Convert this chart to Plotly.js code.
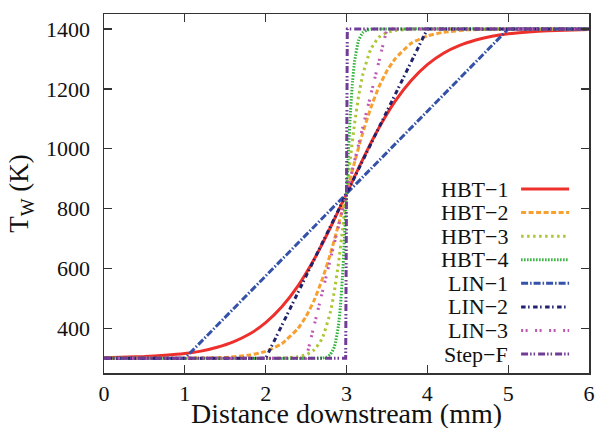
<!DOCTYPE html>
<html>
<head>
<meta charset="utf-8">
<script src="https://cdn.plot.ly/plotly-3.0.1.min.js"></script>
<style>html,body{margin:0;padding:0;background:#fff}#chart{width:599px;height:428px}</style>
</head>
<body>
<div id="chart"></div>
<script>
// Series names
const seriesNames = ["HBT\u22121", "HBT\u22122", "HBT\u22123", "HBT\u22124", "LIN\u22121", "LIN\u22122", "LIN\u22123", "Step\u2212F"];

// HBT-1
const hbt1X = [0, 0.5, 0.75, 1, 1.2, 1.4, 1.6, 1.8, 2, 2.2, 2.4, 2.6, 2.8, 3, 3.2, 3.4, 3.6, 3.8, 4, 4.2, 4.4, 4.6, 4.8, 5, 5.25, 5.5, 6];
const hbt1Y = [302, 306, 310, 316, 324, 337, 355, 381, 419, 472, 542, 631, 736, 850, 964, 1069, 1158, 1228, 1281, 1319, 1345, 1363, 1376, 1384, 1390, 1394, 1398];

// HBT-2
const hbt2X = [0, 1, 1.5, 1.8, 2, 2.2, 2.4, 2.5, 2.6, 2.7, 2.8, 2.9, 3, 3.1, 3.2, 3.3, 3.4, 3.5, 3.6, 3.8, 4, 4.2, 4.5, 5, 6];
const hbt2Y = [300, 300.5, 303, 311, 323, 349, 400, 440, 494, 564, 648, 746, 850, 955, 1052, 1136, 1206, 1260, 1300, 1352, 1377, 1389, 1397, 1399.5, 1400];

// HBT-3
const hbt3X = [0, 2, 2.2, 2.4, 2.5, 2.6, 2.7, 2.8, 2.85, 2.9, 2.95, 3, 3.05, 3.1, 3.15, 3.2, 3.3, 3.4, 3.5, 3.6, 3.8, 4, 6];
const hbt3Y = [300, 300, 301, 305, 312, 328, 367, 454, 524, 616, 727, 850, 973, 1084, 1176, 1246, 1332, 1372, 1388, 1395, 1399, 1400, 1400];

// HBT-4
const hbt4X = [0, 2.6, 2.7, 2.75, 2.8, 2.85, 2.9, 2.925, 2.95, 2.975, 3, 3.025, 3.05, 3.075, 3.1, 3.15, 3.2, 3.25, 3.3, 3.4, 6];
const hbt4Y = [300, 300, 301, 304, 313, 338, 408, 475, 572, 701, 850, 999, 1128, 1225, 1292, 1362, 1387, 1396, 1399, 1400, 1400];

// Linear ramps and step
const lin1X = [0, 1, 5, 6];
const lin1Y = [300, 300, 1400, 1400];
const lin2X = [0, 2, 4, 6];
const lin2Y = [300, 300, 1400, 1400];
const lin3X = [0, 2.5, 3.5, 6];
const lin3Y = [300, 300, 1400, 1400];
const stepX = [0, 2.99, 3.01, 6];
const stepY = [300, 300, 1400, 1400];

// Axis ticks and titles
const xTicks = [0, 1, 2, 3, 4, 5, 6];
const yTicks = [400, 600, 800, 1000, 1200, 1400];
const xTitle = "Distance downstream (mm)";
const yTitle = "T<sub>W</sub> (K)";

// Styles
const styles = [
  {color: "rgb(238,48,44)", dash: "solid", width: 3, shape: "spline"},
  {color: "rgb(247,160,48)", dash: "5px,2.5px", width: 3, shape: "spline"},
  {color: "rgb(172,198,52)", dash: "2.5px,3.5px", width: 3, shape: "spline"},
  {color: "rgb(46,178,56)", dash: "1.5px,1.5px", width: 3, shape: "spline"},
  {color: "rgb(52,82,168)", dash: "7px,2px,1.5px,2px", width: 3, shape: "linear"},
  {color: "rgb(32,34,108)", dash: "4.5px,2.5px,1.5px,3.5px", width: 3, shape: "linear"},
  {color: "rgb(190,88,180)", dash: "2px,2.5px,2px,7.5px", width: 3, shape: "linear"},
  {color: "rgb(112,60,150)", dash: "7px,2px,1.5px,2px,1.5px,3px", width: 3, shape: "linear"}
];

const xs = [hbt1X, hbt2X, hbt3X, hbt4X, lin1X, lin2X, lin3X, stepX];
const ys = [hbt1Y, hbt2Y, hbt3Y, hbt4Y, lin1Y, lin2Y, lin3Y, stepY];

const traces = seriesNames.map((n, i) => ({
  x: xs[i], y: ys[i], name: n, type: "scatter", mode: "lines",
  line: {color: styles[i].color, dash: styles[i].dash, width: styles[i].width, shape: styles[i].shape, smoothing: 0.5},
  showlegend: false, hoverinfo: "skip"
}));

const FAM = "Liberation Serif";

// Custom legend: right-aligned names with line samples to their right
const legTop = 0.5125, legStep = 0.0657;
const annotations = [], shapes = [];
seriesNames.forEach((n, i) => {
  const yp = legTop - i * legStep;
  annotations.push({xref: "paper", yref: "paper", x: 0.837, y: yp, xanchor: "right", yanchor: "middle",
    text: n, showarrow: false, font: {family: FAM, size: 22, color: "#111"}});
  shapes.push({type: "line", xref: "paper", yref: "paper", x0: 0.860, x1: 0.959, y0: yp, y1: yp,
    line: {color: styles[i].color, dash: styles[i].dash, width: styles[i].width}});
});
// x-axis title placed below the tick labels
annotations.push({xref: "paper", yref: "paper", x: 0.5, y: -0.113, xanchor: "center", yanchor: "middle",
  text: xTitle, showarrow: false, font: {family: FAM, size: 28, color: "#111"}});

const layout = {
  width: 599, height: 428,
  margin: {l: 104, r: 10, t: 14, b: 55},
  paper_bgcolor: "#fff", plot_bgcolor: "#fff",
  showlegend: false,
  font: {family: FAM, color: "#111"},
  xaxis: {
    range: [0, 6], tickvals: xTicks, ticktext: xTicks.map(String),
    ticks: "inside", ticklen: 8, tickwidth: 1.3, tickcolor: "#333",
    showline: true, linecolor: "#333", linewidth: 1.5, mirror: "ticks",
    showgrid: false, zeroline: false, automargin: false,
    tickfont: {family: FAM, size: 22, color: "#111"}
  },
  yaxis: {
    range: [251, 1450], tickvals: yTicks, ticktext: yTicks.map(String),
    ticks: "inside", ticklen: 8, tickwidth: 1.3, tickcolor: "#333",
    showline: true, linecolor: "#333", linewidth: 1.5, mirror: "ticks",
    showgrid: false, zeroline: false, automargin: false,
    tickfont: {family: FAM, size: 22, color: "#111"},
    ticklabelstandoff: 8,
    title: {text: yTitle, font: {family: FAM, size: 27, color: "#111"}, standoff: 9}
  },
  annotations: annotations,
  shapes: shapes
};

Plotly.newPlot("chart", traces, layout, {staticPlot: true, displayModeBar: false});
</script>
</body>
</html>
